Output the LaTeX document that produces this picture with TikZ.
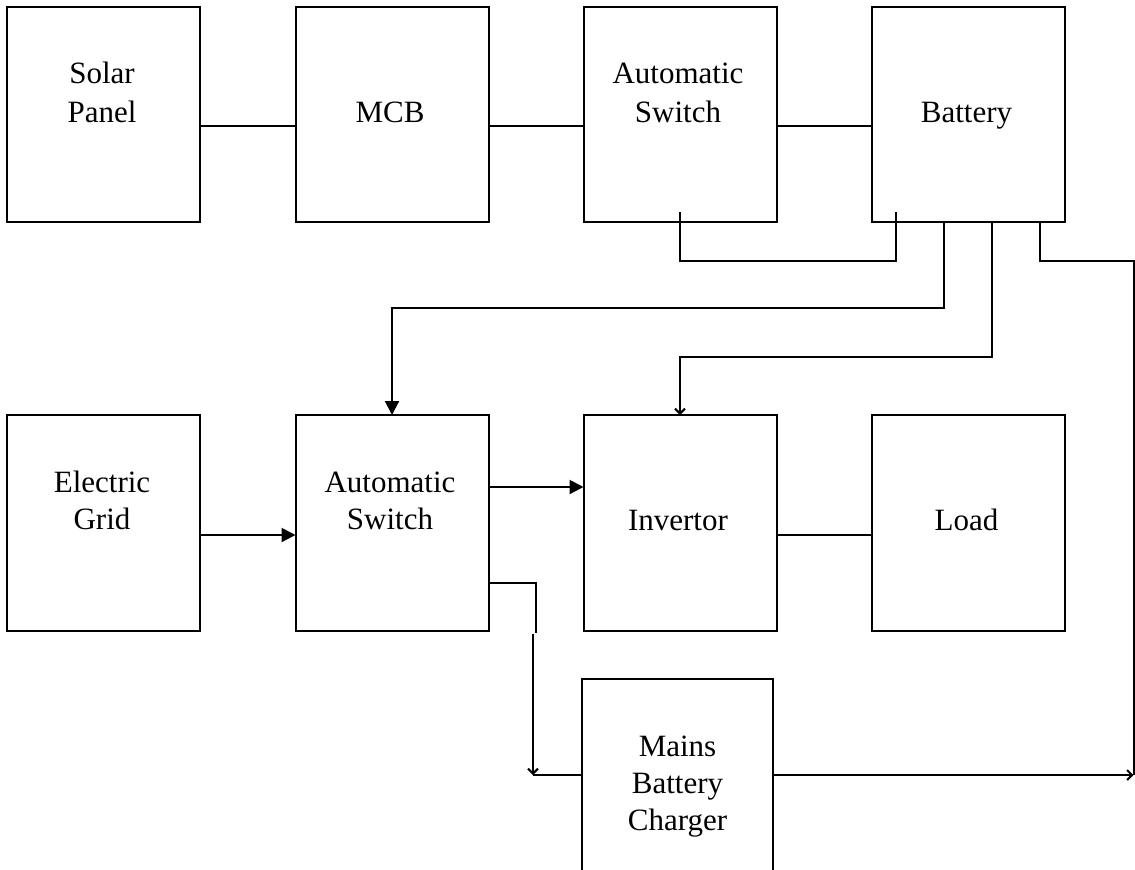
\documentclass[tikz,border=0pt]{standalone}
\usepackage{fontspec}
\setmainfont{Liberation Serif}
\usetikzlibrary{arrows.meta}
\begin{document}
\begin{tikzpicture}[x=0.5pt,y=-0.5pt,
  box/.style={draw, line width=1pt, inner sep=0pt, outer sep=0pt, minimum width=96.5pt},
  toprow/.style={box, minimum height=107.5pt},
  botrow/.style={box, minimum height=108pt},
  lbl/.style={align=center, anchor=base, inner sep=0pt, font=\fontsize{15.5}{19}\selectfont},
  wire/.style={line width=1pt},
  bigarrow/.style={wire, -{Triangle[width=7pt,length=7pt]}},
  smallarrow/.style={wire, -{Straight Barb[length=2.5pt,width=5pt]}}]
\useasboundingbox (0,0) rectangle (1135,869);
\clip (0,0) rectangle (1135,869);
% boxes
\node[toprow] (sp)  at (103.5,114.5) {};
\node[toprow] (mcb) at (392,114.5) {};
\node[toprow] (as1) at (680,114.5) {};
\node[toprow] (bat) at (968,114.5) {};
\node[botrow] (grid) at (103.5,523) {};
\node[botrow] (as2)  at (392,523) {};
\node[botrow] (inv)  at (680,523) {};
\node[botrow] (load) at (968,523) {};
\node[box, minimum width=95.5pt, minimum height=105.5pt] (chg) at (677.5,784.5) {};
% labels (anchored at the baseline of the last line)
\node[lbl, font=\fontsize{15.5}{19.5}\selectfont] (tsp)  at (102,122) {Solar\\Panel};
\node[lbl] (tmcb) at (390,122) {MCB};
\node[lbl, font=\fontsize{15.5}{19.5}\selectfont] (tas1) at (678,122) {Automatic\\Switch};
\node[lbl] (tbat) at (966.5,122) {Battery};
\node[lbl, font=\fontsize{15.5}{18.5}\selectfont] (tgrid) at (102,529) {Electric\\Grid};
\node[lbl, font=\fontsize{15.5}{18.5}\selectfont] (tas2) at (390,529) {Automatic\\Switch};
\node[lbl] (tinv) at (678,530) {Invertor};
\node[lbl] (tload) at (966.5,530) {Load};
\node[lbl, font=\fontsize{15.5}{18.5}\selectfont] (tchg) at (677.5,830) {Mains\\Battery\\Charger};
% top row links
\draw[wire] (sp.east |- 0,126) -- (mcb.west |- 0,126);
\draw[wire] (mcb.east |- 0,126) -- (as1.west |- 0,126);
\draw[wire] (as1.east |- 0,126) -- (bat.west |- 0,126);
% feedback loop
\draw[wire] ([yshift=5pt]as1.south) -- ++(0,49) -| ([xshift=-36pt,yshift=5pt]bat.south);
% battery to switch 2
\draw[bigarrow] ([xshift=-12pt]bat.south) -- ++(0,86) -| (as2.north);
% battery to invertor
\draw[smallarrow] ([xshift=12pt]bat.south) -- ++(0,135) -| (inv.north);
% battery to right rail
\coordinate (rc) at (1133.5,775);
\draw[wire] ([xshift=36pt]bat.south) -- ++(0,39) -- (1133.5,261) -- (rc);
% second row links
\draw[bigarrow] (grid.east |- 0,535) -- (as2.west |- 0,535);
\draw[bigarrow] (as2.east |- 0,487) -- (inv.west |- 0,487);
\draw[wire] (inv.east |- 0,535) -- (load.west |- 0,535);
% switch 2 to charger
\coordinate (k1) at (536,583);
\coordinate (k2) at (536,633);
\coordinate (k3) at (533,634);
\coordinate (k4) at (533,775);
\draw[wire] (as2.east |- k1) -- (k1) -- (k2);
\draw[smallarrow] (k3) -- (k4);
\draw[wire] (k4) -- (chg.west |- k4);
% charger to rail
\draw[smallarrow] (chg.east |- rc) -- (rc);
\end{tikzpicture}
\end{document}
